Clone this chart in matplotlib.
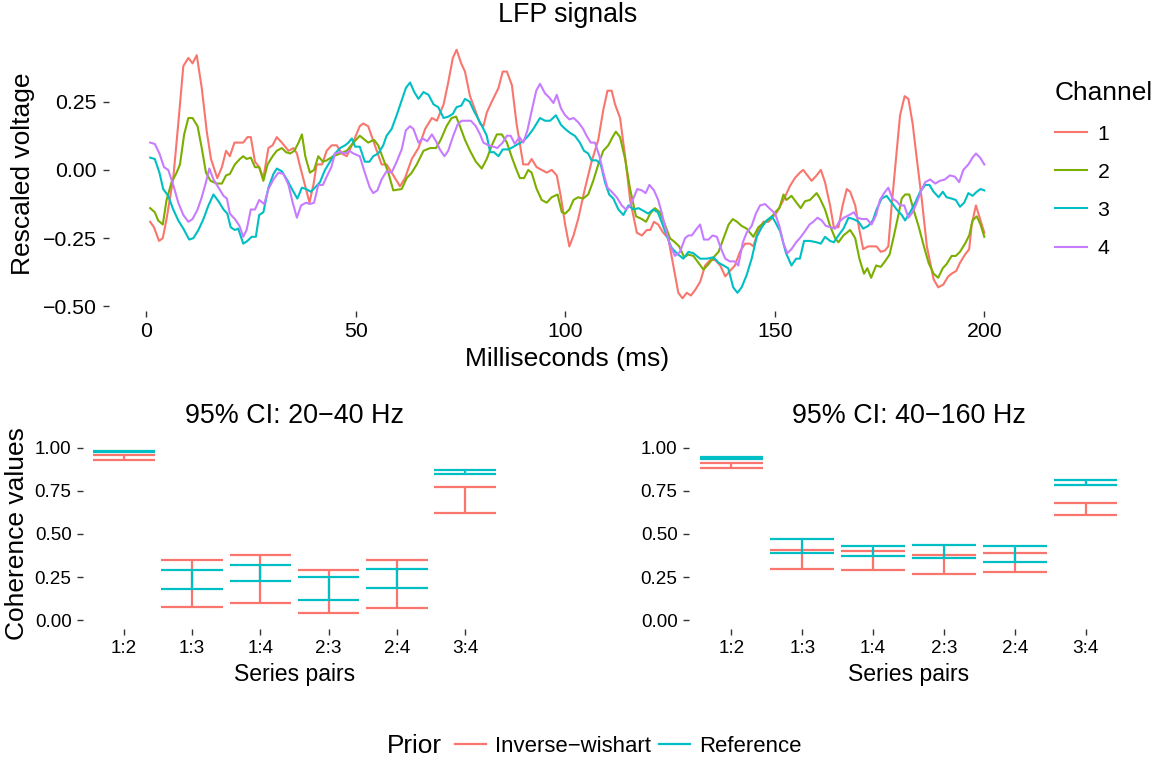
import numpy as np
import matplotlib
matplotlib.use("Agg")
import matplotlib.pyplot as plt
from matplotlib.lines import Line2D

plt.rcParams['font.family'] = ['Liberation Sans', 'DejaVu Sans']

# ---- LFP signals ----
ch1_t = [1, 1.9, 3.1, 4, 4.9, 6.5, 7.7, 8.9, 10.1, 11.1, 12.1, 13.3, 14.5, 15.5, 17, 18.1, 19.1, 20, 21.1, 22.4,
         23.2, 24.2, 25, 26, 27, 28, 29.2, 30.2, 31.2, 32.4, 34, 35.2, 36, 36.8, 38, 39, 40, 40.7, 42, 43.1,
         44.3, 45.5, 46.7, 47.9, 49.1, 51, 51.8, 53, 54.6, 56.2, 57.4, 59, 60.6, 61.8, 63.4, 65, 66.6, 68.2, 69.4, 71,
         72.1, 73.2, 74.1, 75.2, 76.1, 77.3, 78.5, 79.7, 80.5, 81.3, 82.5, 84.1, 85.1, 86.1, 87.3, 88.4, 90, 91.2, 92, 93.2,
         94.4, 95.6, 96.8, 98, 99, 100, 101, 102, 103.1, 104.7, 106.3, 107.9, 109.1, 110.1, 111.1, 111.9, 113.1, 114.3, 115.5, 117.1,
         118.3, 119.5, 120.3, 121.2, 122.2, 123.4, 124.6, 125.8, 127, 128, 129, 130, 131, 132.2, 133.4, 134.6, 135.8, 137, 138.2, 139.3,
         140.5, 141.7, 142.9, 144.1, 144.9, 146.1, 147.3, 148.5, 149.7, 150.5, 152.1, 153.6, 154.8, 156, 156.8, 157.8, 158.8, 160, 161, 162,
         163.2, 164.1, 165.2, 166.2, 167.2, 168, 169.2, 170.2, 171.1, 172.3, 173.5, 174.3, 175.3, 176.3, 177.1, 177.9, 179, 179.9, 181, 181.9,
         182.9, 183.9, 185.1, 186.3, 187.9, 189, 190.2, 191.4, 192.2, 193.3, 194.2, 195.4, 196.4, 197, 198, 199, 200]
ch1_v = [-0.19, -0.21, -0.26, -0.25, -0.18, -0.03, 0.17, 0.38, 0.41, 0.39, 0.42, 0.30, 0.14, 0.04, -0.03, 0.01, 0.07, 0.05, 0.10, 0.10,
         0.10, 0.12, 0.12, 0.03, 0.01, -0.03, 0.08, 0.09, 0.12, 0.10, 0.07, 0.08, 0.06, 0.01, -0.06, -0.12, -0.05, 0.02, 0.02, 0.07,
         0.09, 0.09, 0.06, 0.05, 0.09, 0.16, 0.17, 0.16, 0.09, 0.02, 0.02, -0.02, -0.06, -0.03, 0.04, 0.08, 0.15, 0.19, 0.18, 0.24,
         0.32, 0.41, 0.44, 0.39, 0.36, 0.27, 0.22, 0.17, 0.16, 0.21, 0.25, 0.30, 0.36, 0.36, 0.31, 0.17, 0.02, 0.02, 0.04, 0.01,
         0.00, -0.01, 0.00, -0.02, -0.10, -0.20, -0.28, -0.24, -0.18, -0.07, 0.03, 0.11, 0.22, 0.29, 0.29, 0.24, 0.19, 0.05, -0.11, -0.23,
         -0.24, -0.22, -0.22, -0.19, -0.20, -0.23, -0.25, -0.35, -0.45, -0.47, -0.45, -0.46, -0.44, -0.41, -0.35, -0.33, -0.33, -0.35, -0.39, -0.37,
         -0.35, -0.30, -0.27, -0.27, -0.28, -0.22, -0.19, -0.19, -0.17, -0.155, -0.11, -0.06, -0.03, -0.01, 0.00, -0.02, -0.04, -0.02, 0.00, -0.045,
         -0.13, -0.21, -0.21, -0.13, -0.07, -0.08, -0.13, -0.22, -0.29, -0.28, -0.28, -0.28, -0.30, -0.295, -0.28, -0.13, 0.05, 0.20, 0.27, 0.26,
         0.17, 0.04, -0.11, -0.28, -0.40, -0.43, -0.42, -0.39, -0.38, -0.37, -0.34, -0.31, -0.29, -0.20, -0.13, -0.18, -0.23]

ch2_t = [1, 2.1, 2.9, 4, 4.9, 6.1, 7.3, 8.1, 9.1, 10.1, 11.1, 12.3, 13.3, 14.3, 15.4, 16.9, 18.1, 19.1, 20, 21.2,
         22.4, 23.2, 24, 25, 26, 27, 28, 29, 30.2, 31.2, 32.4, 33.4, 34.4, 35.4, 36.4, 37.2, 38, 39.1, 40.1, 41.1,
         42.2, 43.1, 44.7, 46.3, 47.9, 49.5, 51, 53, 54.4, 55.4, 56.6, 57.8, 59, 61, 62.2, 63.4, 64.6, 66.2, 67.8, 69.2,
         70.3, 71.7, 72.9, 74, 74.9, 76.1, 77.3, 78.7, 80.1, 81.3, 82.5, 83.7, 84.9, 86.1, 87.3, 88.4, 89.2, 90.2, 91.2, 92,
         93.2, 94.4, 95.6, 96.8, 98.2, 99.2, 100, 101, 102, 103.1, 104.3, 105.5, 106.7, 107.9, 109.1, 110.3, 111.3, 112.1, 113.1, 114.3,
         115.5, 116.9, 118.3, 119.3, 120.3, 121.4, 122.6, 123.8, 125, 126.2, 127.2, 128.4, 129.4, 130.6, 131.8, 133, 134.2, 135.4, 136.6, 137.8,
         139, 140, 141, 142.1, 143.3, 144.9, 146.1, 147.7, 148.9, 150.1, 151.1, 152.1, 152.8, 154, 155.2, 156.2, 157.2, 158.4, 160, 160.8,
         162, 163.2, 164.4, 165.2, 166.4, 168, 169.2, 170.2, 171.3, 172.1, 173, 174.2, 175.3, 176.3, 177.4, 178.3, 179.3, 180.3, 181.1, 182.1,
         183.1, 184.3, 185.5, 186.7, 187.9, 189, 190.1, 191, 192.2, 193.2, 194.2, 195.4, 196.4, 197.2, 198.2, 199.1, 200]
ch2_v = [-0.14, -0.155, -0.185, -0.20, -0.11, -0.045, -0.01, 0.02, 0.13, 0.19, 0.19, 0.16, 0.08, -0.01, -0.04, -0.05, -0.05, -0.02, -0.015, 0.02,
         0.04, 0.05, 0.04, 0.045, 0.01, 0.01, -0.04, 0.02, 0.05, 0.07, 0.08, 0.065, 0.06, 0.07, 0.10, 0.13, 0.05, -0.01, 0.00, 0.05,
         0.03, 0.035, 0.05, 0.06, 0.07, 0.10, 0.125, 0.10, 0.11, 0.09, 0.04, -0.01, -0.075, -0.07, -0.03, -0.01, 0.02, 0.07, 0.08, 0.08,
         0.11, 0.16, 0.19, 0.195, 0.16, 0.11, 0.07, 0.03, 0.005, 0.04, 0.09, 0.13, 0.13, 0.10, 0.045, 0.00, -0.03, -0.03, 0.00, -0.01,
         -0.07, -0.11, -0.12, -0.10, -0.09, -0.155, -0.16, -0.145, -0.11, -0.10, -0.105, -0.09, -0.04, 0.02, 0.07, 0.09, 0.12, 0.14, 0.12, 0.04,
         -0.07, -0.17, -0.18, -0.19, -0.16, -0.14, -0.155, -0.20, -0.25, -0.265, -0.28, -0.32, -0.31, -0.315, -0.34, -0.365, -0.345, -0.32, -0.30, -0.25,
         -0.20, -0.18, -0.19, -0.205, -0.215, -0.245, -0.21, -0.19, -0.18, -0.155, -0.14, -0.09, -0.11, -0.095, -0.12, -0.14, -0.115, -0.11, -0.085, -0.105,
         -0.145, -0.205, -0.25, -0.265, -0.24, -0.22, -0.25, -0.325, -0.38, -0.36, -0.395, -0.35, -0.355, -0.335, -0.31, -0.25, -0.18, -0.105, -0.09, -0.09,
         -0.145, -0.205, -0.275, -0.34, -0.38, -0.395, -0.36, -0.345, -0.315, -0.315, -0.30, -0.27, -0.24, -0.185, -0.17, -0.20, -0.245]

ch3_t = [1, 2.1, 3.2, 4.1, 5.3, 6.5, 7.7, 8.9, 10.3, 11.3, 12.5, 13.7, 14.9, 16.1, 17.3, 18.5, 19.4, 20.2, 21.2, 22,
         23.2, 24.2, 25.2, 26.2, 27, 28, 29.2, 30.4, 31.2, 32.4, 33.6, 35, 36.1, 37.2, 38.2, 39.3, 40.3, 41.5, 42.7, 43.9,
         45.1, 46.3, 47.5, 48.3, 49.1, 49.9, 51, 52.2, 53.3, 54.2, 55.4, 56.6, 57.4, 58.6, 59.8, 61, 62, 63, 64, 65,
         66.2, 67.4, 68.6, 69.7, 71, 72.1, 73.2, 74.1, 75.2, 76.1, 77.2, 78.1, 79.3, 80.5, 81.3, 82.1, 83, 84.1, 85.1, 86.5,
         87.7, 88.8, 90, 91.2, 92.4, 94, 95.2, 96.4, 97.8, 99, 100, 101.2, 102.3, 103.5, 104.5, 105.5, 106.3, 107.5, 108.5, 109.5,
         110.5, 111.5, 112.7, 113.9, 115.1, 116.3, 117.5, 118.7, 119.8, 121, 122.1, 123, 124.2, 125.4, 126.6, 128.2, 129.4, 130.6, 132.2, 133.8,
         135.4, 136.6, 137.8, 138.9, 140.1, 141.1, 142.1, 143.3, 144.5, 145.7, 146.9, 148.1, 149.3, 150.1, 151.3, 152.7, 154, 155.1, 156, 157,
         158.4, 160, 161, 162, 163.2, 164.1, 165.2, 166.4, 167.6, 168.8, 170, 171.1, 172.3, 173.4, 174.3, 175.5, 176.7, 177.9, 179.1, 180.3,
         181.1, 182.3, 183.5, 184.7, 185.9, 186.9, 187.9, 189.1, 190.1, 191, 192.2, 193.2, 194.2, 195.2, 196.2, 197.2, 198.2, 199.1, 200]
ch3_v = [0.045, 0.04, -0.01, -0.07, -0.095, -0.145, -0.185, -0.215, -0.255, -0.25, -0.22, -0.18, -0.13, -0.09, -0.115, -0.145, -0.16, -0.21, -0.22, -0.215,
         -0.27, -0.26, -0.245, -0.245, -0.165, -0.155, -0.065, -0.015, 0.005, -0.005, -0.035, -0.075, -0.105, -0.065, -0.07, -0.08, -0.065, -0.045, 0.00, 0.03,
         0.06, 0.08, 0.09, 0.10, 0.115, 0.085, 0.085, 0.03, 0.03, 0.05, 0.06, 0.09, 0.125, 0.15, 0.20, 0.255, 0.30, 0.32, 0.285, 0.26,
         0.285, 0.275, 0.24, 0.23, 0.19, 0.195, 0.205, 0.23, 0.235, 0.26, 0.25, 0.22, 0.185, 0.15, 0.125, 0.065, 0.065, 0.05, 0.075, 0.075,
         0.085, 0.095, 0.105, 0.125, 0.15, 0.19, 0.18, 0.18, 0.20, 0.165, 0.15, 0.135, 0.125, 0.10, 0.07, 0.06, 0.035, 0.035, 0.02, -0.045,
         -0.09, -0.105, -0.145, -0.165, -0.13, -0.145, -0.14, -0.15, -0.16, -0.145, -0.155, -0.19, -0.24, -0.285, -0.305, -0.325, -0.30, -0.305, -0.325, -0.325,
         -0.32, -0.34, -0.35, -0.36, -0.43, -0.45, -0.43, -0.385, -0.325, -0.245, -0.21, -0.185, -0.17, -0.19, -0.225, -0.305, -0.35, -0.325, -0.325, -0.26,
         -0.26, -0.265, -0.27, -0.245, -0.26, -0.265, -0.24, -0.215, -0.175, -0.18, -0.19, -0.215, -0.205, -0.185, -0.145, -0.105, -0.095, -0.12, -0.145, -0.165,
         -0.185, -0.155, -0.12, -0.08, -0.055, -0.055, -0.08, -0.10, -0.08, -0.10, -0.105, -0.11, -0.135, -0.12, -0.085, -0.095, -0.08, -0.07, -0.075]

ch4_t = [1, 2.1, 3.2, 4.3, 5.3, 6.5, 7.7, 8.9, 10.1, 11.1, 12.3, 13.3, 14.3, 15.1, 16.1, 17.3, 18.5, 19.3, 20, 21.2,
         22.3, 23.2, 24, 25, 26, 27, 28.2, 29.2, 30.4, 31.6, 32.8, 34, 35, 36, 37, 38.2, 39.1, 40.1, 41.1, 42.2,
         43.1, 44.2, 45.1, 46.3, 47.5, 48.5, 49.5, 51, 52.2, 53.4, 54.2, 55.2, 56.2, 57.4, 58.6, 59.8, 61, 62, 63, 63.8,
         65, 66, 67.1, 68.2, 69.2, 70.1, 71.2, 72.1, 73.3, 74.3, 75.3, 76.5, 77.5, 78.7, 79.7, 80.5, 81.7, 82.9, 83.8, 85.1,
         86.1, 87, 88, 89.1, 90, 91, 92, 93.1, 94, 95.2, 96.2, 97.2, 98, 99, 100, 101, 102, 103.1, 104.3, 105.1,
         106.1, 107.1, 108.2, 109.1, 110.1, 111.1, 112.3, 113.5, 114.5, 115.5, 116.4, 117.2, 118.3, 119.2, 120.1, 121.2, 122.2, 123, 124.2, 125,
         126.2, 127.4, 128.6, 129.4, 130.2, 131.4, 132.2, 133.1, 134.2, 135.2, 136.2, 137.1, 138.2, 139.3, 140.5, 141.3, 142.4, 143.3, 144.5, 145.5,
         146.5, 147.7, 148.9, 150.1, 151.1, 152.1, 153, 154, 155.1, 156, 157.2, 158.3, 159.2, 160.2, 161.2, 162.2, 163.3, 164.4, 165.4, 166.5,
         167.8, 168.9, 169.7, 170.8, 172, 173.1, 174.2, 175.1, 176.1, 177.1, 178.1, 179.1, 179.9, 180.9, 181.9, 182.9, 183.9, 185.1, 185.9, 187.1,
         188.3, 189.4, 190.6, 191.8, 193, 194, 195, 196.2, 197.2, 198, 199, 200]
ch4_v = [0.10, 0.095, 0.06, 0.01, 0.00, -0.055, -0.12, -0.165, -0.19, -0.18, -0.145, -0.10, -0.045, 0.005, -0.035, -0.065, -0.095, -0.105, -0.16, -0.18,
         -0.205, -0.245, -0.22, -0.145, -0.145, -0.11, -0.125, -0.07, -0.035, -0.01, -0.015, -0.055, -0.12, -0.175, -0.13, -0.12, -0.125, -0.12, -0.055, -0.055,
         -0.025, 0.01, 0.06, 0.065, 0.06, 0.07, 0.06, 0.05, -0.01, -0.065, -0.085, -0.075, -0.035, -0.005, -0.01, 0.03, 0.075, 0.145, 0.16, 0.15,
         0.10, 0.115, 0.105, 0.13, 0.105, 0.075, 0.05, 0.07, 0.125, 0.165, 0.18, 0.18, 0.18, 0.16, 0.13, 0.10, 0.09, 0.085, 0.08, 0.10,
         0.125, 0.125, 0.095, 0.12, 0.10, 0.145, 0.215, 0.29, 0.315, 0.28, 0.265, 0.245, 0.275, 0.225, 0.20, 0.185, 0.19, 0.175, 0.15, 0.125,
         0.10, 0.10, 0.05, -0.01, -0.065, -0.08, -0.10, -0.13, -0.145, -0.13, -0.10, -0.07, -0.075, -0.085, -0.055, -0.075, -0.11, -0.155, -0.23, -0.275,
         -0.315, -0.30, -0.25, -0.24, -0.24, -0.215, -0.20, -0.255, -0.255, -0.24, -0.245, -0.285, -0.325, -0.335, -0.335, -0.35, -0.265, -0.23, -0.205, -0.16,
         -0.13, -0.125, -0.143, -0.16, -0.205, -0.27, -0.305, -0.29, -0.265, -0.25, -0.225, -0.20, -0.19, -0.175, -0.185, -0.205, -0.21, -0.215, -0.19, -0.175,
         -0.165, -0.155, -0.175, -0.18, -0.18, -0.20, -0.165, -0.11, -0.085, -0.065, -0.105, -0.115, -0.13, -0.13, -0.175, -0.155, -0.12, -0.07, -0.045, -0.035,
         -0.05, -0.04, -0.035, -0.02, -0.025, -0.045, 0.00, 0.02, 0.045, 0.06, 0.045, 0.02]

channels = ["1", "2", "3", "4"]
channel_colors = ["#F8766D", "#7CAE00", "#00BFC4", "#C77CFF"]

# ---- coherence credible intervals ----
pairs = ["1:2", "1:3", "1:4", "2:3", "2:4", "3:4"]
priors = ["Inverse\u2212wishart", "Reference"]
prior_colors = ["#F8766D", "#00BFC4"]

iw_lo_20_40 = [0.93, 0.08, 0.10, 0.04, 0.07, 0.62]
iw_hi_20_40 = [0.96, 0.35, 0.38, 0.29, 0.35, 0.77]
ref_lo_20_40 = [0.975, 0.18, 0.23, 0.12, 0.19, 0.85]
ref_hi_20_40 = [0.98, 0.29, 0.32, 0.25, 0.30, 0.87]

iw_lo_40_160 = [0.88, 0.30, 0.29, 0.27, 0.28, 0.61]
iw_hi_40_160 = [0.91, 0.41, 0.40, 0.38, 0.39, 0.68]
ref_lo_40_160 = [0.935, 0.39, 0.37, 0.36, 0.34, 0.785]
ref_hi_40_160 = [0.945, 0.47, 0.43, 0.435, 0.43, 0.81]

W, H = 1176, 764
fig = plt.figure(figsize=(W / 100, H / 100), dpi=100)


def px_axes(left, top, right, bottom):
    return fig.add_axes([left / W, 1 - bottom / H, (right - left) / W, (bottom - top) / H])


def clean(ax, tick_fs):
    for s in ax.spines.values():
        s.set_visible(False)
    ax.tick_params(axis="both", length=4.2, width=1.0, color="#333333",
                   labelsize=tick_fs, labelcolor="black", pad=4)


# top panel
ax = px_axes(108.5, 37.3, 1026, 310.7)
series = [(ch1_t, ch1_v), (ch2_t, ch2_v), (ch3_t, ch3_v), (ch4_t, ch4_v)]
for (t, v), name, col in zip(series, channels, channel_colors):
    ax.plot(t, v, color=col, lw=1.5, label=name, solid_joinstyle="round")
ax.margins(x=0.05, y=0.05)
ax.set_xticks([0, 50, 100, 150, 200])
ax.set_yticks([-0.5, -0.25, 0, 0.25])
ax.set_yticklabels(["\u22120.50", "\u22120.25", "0.00", "0.25"])
clean(ax, 15.3)
ax.set_title("LFP signals", fontsize=19.3, pad=11)
ax.set_xlabel("Milliseconds (ms)", fontsize=19, labelpad=4)
ax.set_ylabel("Rescaled voltage", fontsize=19, labelpad=6)
leg = ax.legend(title="Channel", loc="upper left", bbox_to_anchor=(1055 / W, 1 - 81.5 / H),
                bbox_transform=fig.transFigure, frameon=False, fontsize=15.3,
                title_fontsize=18.9, handlelength=1.5, handletextpad=0.5,
                labelspacing=0.9, borderpad=0, borderaxespad=0, alignment="left")

# bottom panels
panels = [
    ("95% CI: 20\u221240 Hz", (83, 439, 506, 629),
     [(iw_lo_20_40, iw_hi_20_40), (ref_lo_20_40, ref_hi_20_40)], True),
    ("95% CI: 40\u2212160 Hz", (689, 439, 1128, 629),
     [(iw_lo_40_160, iw_hi_40_160), (ref_lo_40_160, ref_hi_40_160)], False),
]
x = np.arange(len(pairs))
for title, box, data, show_ylabel in panels:
    bx = px_axes(*box)
    for (lo, hi), col in zip(data, prior_colors):
        bx.hlines(lo, x - 0.45, x + 0.45, color=col, lw=1.6)
        bx.hlines(hi, x - 0.45, x + 0.45, color=col, lw=1.6)
        bx.vlines(x, lo, hi, color=col, lw=1.6)
    bx.set_xlim(-0.6, len(pairs) - 0.4)
    bx.set_ylim(-0.05, 1.05)
    bx.set_xticks(x)
    bx.set_xticklabels(pairs)
    bx.set_yticks([0, 0.25, 0.5, 0.75, 1.0])
    bx.set_yticklabels(["0.00", "0.25", "0.50", "0.75", "1.00"])
    clean(bx, 13.6)
    bx.set_title(title, fontsize=19.4, pad=11.5)
    bx.set_xlabel("Series pairs", fontsize=16.6, labelpad=4)
    if show_ylabel:
        bx.set_ylabel("Coherence values", fontsize=19, labelpad=4)

# shared legend at the bottom
fig.text(387 / W, 1 - 746 / H, "Prior", fontsize=18.8, va="center", ha="left")
handles = [Line2D([], [], color=c, lw=1.6) for c in prior_colors]
fig.legend(handles, priors, loc="center left", bbox_to_anchor=(455 / W, 1 - 746 / H),
           ncol=2, frameon=False, fontsize=15.9, handlelength=1.4, handletextpad=0.4,
           columnspacing=0.4, borderpad=0, borderaxespad=0)

fig.savefig("out.png", dpi=100)
